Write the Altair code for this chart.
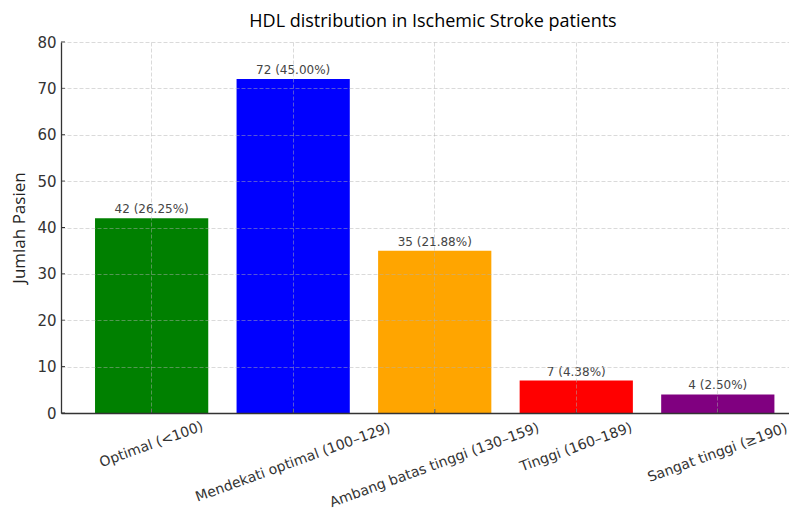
import altair as alt
import pandas as pd

categories = [
    "Optimal (<100)",
    "Mendekati optimal (100–129)",
    "Ambang batas tinggi (130–159)",
    "Tinggi (160–189)",
    "Sangat tinggi (≥190)",
]
counts = [42, 72, 35, 7, 4]
percents = [26.25, 45.00, 21.88, 4.38, 2.50]
colors = ["#008000", "#0000ff", "#ffa500", "#ff0000", "#800080"]
y_ticks = [0, 10, 20, 30, 40, 50, 60, 70, 80]

df = pd.DataFrame({"Kategori": categories, "Jumlah": counts, "Persen": percents, "Warna": colors})
df["Label"] = [f"{c} ({p:.2f}%)" for c, p in zip(counts, percents)]
ticks_df = pd.DataFrame({"Jumlah": y_ticks})

W, H = 728, 371
TEXT = "#333333"

x_scale = alt.Scale(domain=categories, paddingInner=0.2, paddingOuter=0.1717, align=0.70)
y_scale = alt.Scale(domain=[0, 80], nice=False)

base = alt.Chart(df)

bars = base.mark_bar().encode(
    x=alt.X("Kategori:N", scale=x_scale, sort=None,
            axis=alt.Axis(title=None, labels=False, ticks=False, grid=True, domain=True, zindex=1)),
    y=alt.Y("Jumlah:Q", scale=y_scale,
            axis=alt.Axis(title="Jumlah Pasien", values=y_ticks, ticks=False, labelPadding=5,
                          titlePadding=8, grid=True, zindex=1)),
    color=alt.Color("Warna:N", scale=None),
)

values = base.mark_text(baseline="bottom", dy=-2, font="DejaVu Sans", fontSize=12, color="#444444").encode(
    x=alt.X("Kategori:N", scale=x_scale, sort=None),
    y=alt.Y("Jumlah:Q", scale=y_scale),
    text="Label:N",
)

# label anchor offsets (rotated frame): screen offset sx=-2.5, sy=6+0.171*L, L ~ 8.05 px per char
sy = "(6 + 0.171 * 8.05 * length(datum.Kategori))"
xlabels = base.mark_text(
    angle=340, align="center", baseline="top",
    dx={"expr": f"0.94 * -2.5 - 0.342 * {sy}"},
    dy={"expr": f"0.342 * -2.5 + 0.94 * {sy}"},
    font="DejaVu Sans", fontSize=14, color=TEXT,
).encode(
    x=alt.X("Kategori:N", scale=x_scale, sort=None),
    y=alt.value(H),
    text="Kategori:N",
)

xticks = base.mark_rule(color=TEXT, strokeWidth=1).encode(
    x=alt.X("Kategori:N", scale=x_scale, sort=None),
    y=alt.value(H),
    y2=alt.value(H - 4),
)

yticks = alt.Chart(ticks_df).mark_rule(color=TEXT, strokeWidth=1).encode(
    y=alt.Y("Jumlah:Q", scale=y_scale),
    x=alt.value(0),
    x2=alt.value(4),
)

chart = alt.layer(bars, values, xlabels, xticks, yticks).properties(
    width=W,
    height=H,
    title=alt.TitleParams(
        "HDL distribution in Ischemic Stroke patients",
        font="Open Sans", fontSize=18, fontWeight="normal", color="#000000",
        offset=4, dx=8,
    ),
    autosize=alt.AutoSizeParams(type="none"),
    padding={"left": 53, "top": 34, "right": 0, "bottom": 96},
).configure_view(stroke=None).configure_axis(
    domainColor=TEXT,
    domainWidth=1.3,
    gridColor="#b0b0b0",
    gridOpacity=0.6,
    gridDash=[4, 2],
    gridWidth=0.8,
    labelFont="DejaVu Sans",
    labelFontSize=15,
    labelColor=TEXT,
    titleFont="Open Sans",
    titleFontSize=17,
    titleFontWeight="normal",
    titleColor="#222222",
)

chart.save("out.html", embed_options={"renderer": "svg", "actions": False})
